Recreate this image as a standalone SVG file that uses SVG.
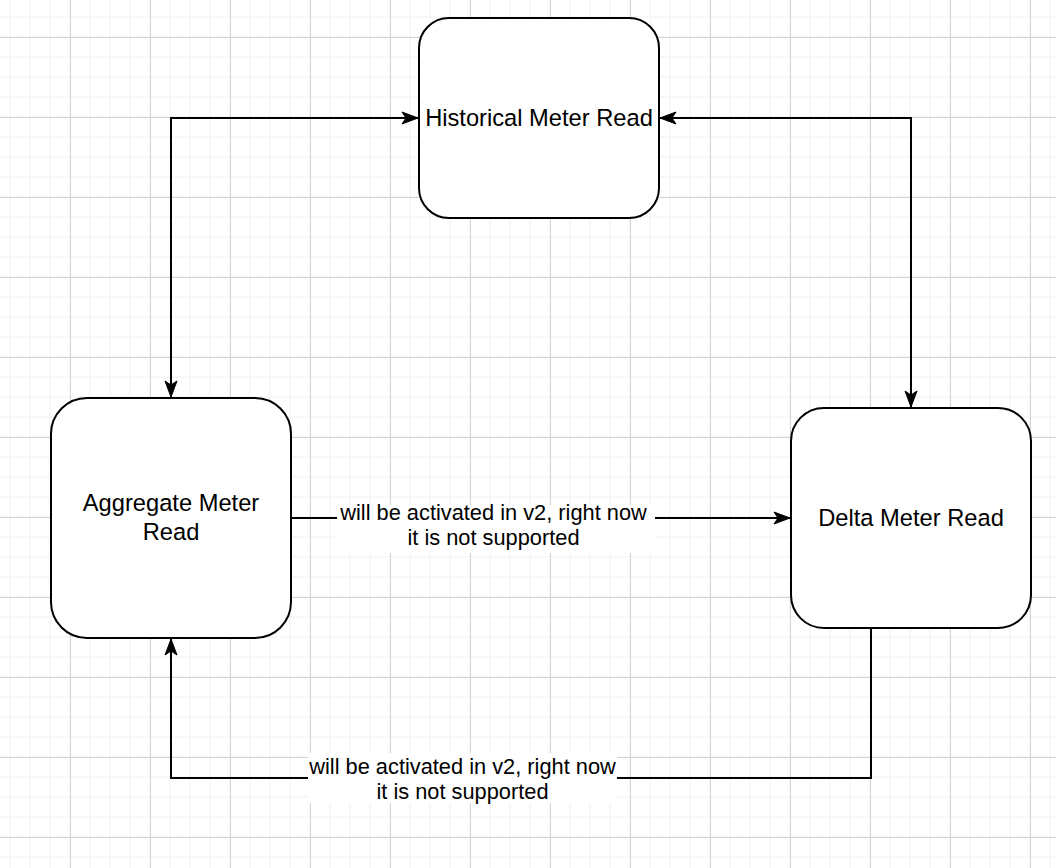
<svg xmlns="http://www.w3.org/2000/svg" width="1056" height="868" viewBox="0 0 1056 868">
<style>
.node{fill:#ffffff;stroke:#000000;stroke-width:2}
.ntext{font-family:"Liberation Sans",Arial,Helvetica,sans-serif;font-size:23.7px;fill:#000000;text-anchor:middle}
.ltext{font-family:"Liberation Sans",Arial,Helvetica,sans-serif;font-size:21.8px;fill:#000000;text-anchor:middle}
.edge{fill:none;stroke:#000000;stroke-width:2}
.lbg{fill:#ffffff;stroke:none}
</style>
<defs>
<pattern id="minor" patternUnits="userSpaceOnUse" x="0" y="7" width="20" height="20">
<path d="M10 0V20M0 10H20" stroke="#f0f0f0" stroke-width="1" fill="none"/>
</pattern>
<pattern id="major" patternUnits="userSpaceOnUse" x="30" y="-3" width="80" height="80">
<path d="M40.5 0V80M0 40.5H80" stroke="#d3d3d3" stroke-width="1" fill="none"/>
</pattern>
<marker id="arrow" viewBox="0 0 18 14" refX="17" refY="7" markerWidth="18" markerHeight="14" markerUnits="userSpaceOnUse" orient="auto-start-reverse">
<path d="M1 1L17 7L1 13L5 7Z" fill="#000000" stroke="#000000" stroke-width="1" stroke-linejoin="miter"/>
</marker>
</defs>
<rect x="0" y="0" width="1056" height="868" fill="#ffffff"/>
<rect x="0" y="0" width="1056" height="868" fill="url(#minor)"/>
<rect x="0" y="0" width="1056" height="868" fill="url(#major)"/>
<g id="connectors">
<path class="edge" d="M171 397V118H418" marker-start="url(#arrow)" marker-end="url(#arrow)"/>
<path class="edge" d="M660 118H911V407" marker-start="url(#arrow)" marker-end="url(#arrow)"/>
<path class="edge" d="M291 518H790" marker-end="url(#arrow)"/>
<path class="edge" d="M871 628V778H171V639" marker-end="url(#arrow)"/>
<g id="label1">
<rect class="lbg" x="337" y="505" width="318" height="48"/>
<text class="ltext" x="493.5" y="520">will be activated in v2, right now</text>
<text class="ltext" x="493.5" y="545">it is not supported</text>
</g>
<g id="label2">
<rect class="lbg" x="308" y="753" width="309" height="50"/>
<text class="ltext" x="462.5" y="774">will be activated in v2, right now</text>
<text class="ltext" x="462.5" y="799">it is not supported</text>
</g>
</g>
<g id="historical">
<rect class="node" x="419" y="18" width="240" height="200" rx="30" ry="30"/>
<text class="ntext" x="539" y="126">Historical Meter Read</text>
</g>
<g id="aggregate">
<rect class="node" x="51" y="398" width="240" height="240" rx="36" ry="36"/>
<text class="ntext" x="171" y="511">Aggregate Meter</text>
<text class="ntext" x="171" y="540">Read</text>
</g>
<g id="delta">
<rect class="node" x="791" y="408" width="240" height="220" rx="33" ry="33"/>
<text class="ntext" x="911" y="526">Delta Meter Read</text>
</g>
</svg>
